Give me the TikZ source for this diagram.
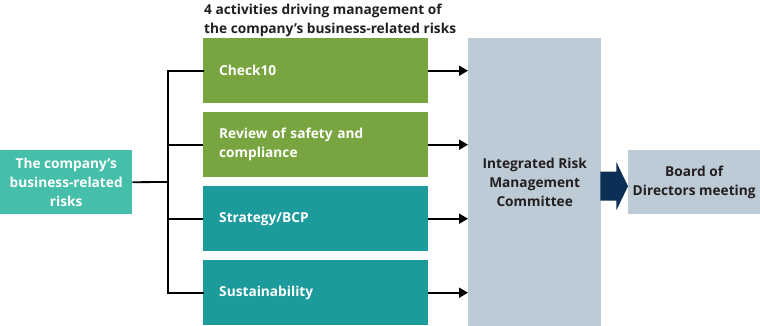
\documentclass[tikz,border=0pt]{standalone}
\usepackage{fontspec}
\setmainfont{Open Sans}
\usetikzlibrary{arrows.meta,calc}
\definecolor{cgreen}{HTML}{79A540}
\definecolor{cteal}{HTML}{1C9A9C}
\definecolor{clteal}{HTML}{45BFA9}
\definecolor{cgray}{HTML}{BDCBD7}
\definecolor{cnavy}{HTML}{0B2F55}
\definecolor{ctext}{HTML}{231F20}
\begin{document}
\begin{tikzpicture}[x=1pt,y=-1pt,
  txt/.style={font=\fontsize{13.7}{19}\selectfont\bfseries},
  actbox/.style={txt,draw=none,minimum width=225pt,minimum height=65pt,inner sep=0pt,
     text width=193pt,align=left,text=white,anchor=north west},
  sidebox/.style={txt,minimum width=132pt,minimum height=64pt,inner sep=0pt,align=center,anchor=north west},
  link/.style={line width=1.8pt,black},
  arr/.style={link,-{Triangle[length=9pt,width=10pt]}}]
\useasboundingbox (0,0) rectangle (760,326);
% title
\node[txt,text=ctext,anchor=north west,align=left,inner sep=0pt] (title) at (204,3.5)
  {4 activities driving management of\\the company’s business-related risks};
% boxes
\node[sidebox,fill=clteal,text=white] (src) at (0,150) {The company’s\\business-related\\risks};
\node[actbox,fill=cgreen] (a1) at (203,38) {Check10};
\node[actbox,fill=cgreen] (a2) at (203,112) {Review of safety and\\compliance};
\node[actbox,fill=cteal] (a3) at (203,186) {Strategy/BCP};
\node[actbox,fill=cteal] (a4) at (203,260) {Sustainability};
\node[txt,fill=cgray,text=ctext,minimum width=133pt,minimum height=288pt,inner sep=0pt,align=center,anchor=north west] (irm) at (468,38)
  {Integrated Risk\\Management\\Committee};
\node[sidebox,fill=cgray,text=ctext] (board) at (628,150) {Board of\\Directors meeting};
% connectors
\coordinate (j) at (168,182);
\draw[link] (src.east) -- (j);
\draw[link,line cap=rect] (a1.west) -| (j);
\draw[link] (a2.west) -| (j);
\draw[link] (a3.west) -| (j);
\draw[link,line cap=rect] (a4.west) -| (j);
\foreach \n in {a1,a2,a3,a4}
  \draw[arr] (\n.east) -- (\n.east -| irm.west);
% big arrow
\coordinate (b0) at ($(irm.east)+(0,4)$);
\fill[cnavy] ($(b0)+(-1,-14.5)$) -- ($(b0)+(15,-14.5)$) -- ($(b0)+(15,-24)$)
  -- (board.west |- {$(b0)+(0,0)$}) -- ($(b0)+(15,24)$) -- ($(b0)+(15,14.5)$)
  -- ($(b0)+(-1,14.5)$) -- cycle;
\end{tikzpicture}
\end{document}
